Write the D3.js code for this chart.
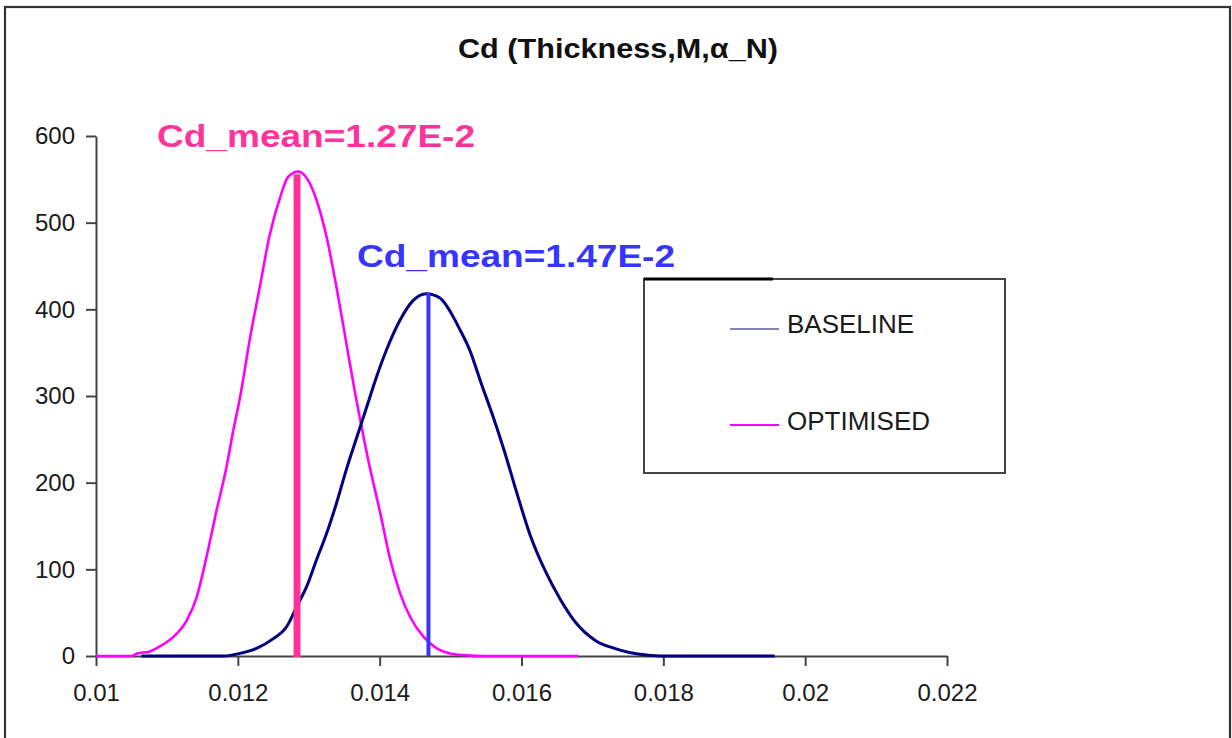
<!DOCTYPE html>
<html>
<head>
<meta charset="utf-8">
<script src="https://cdn.jsdelivr.net/npm/d3@7"></script>
<style>
  html, body { margin: 0; padding: 0; background: #fff; }
  svg { display: block; }
  text { font-family: "Liberation Sans", Arial, Helvetica, sans-serif; }
</style>
</head>
<body>
<svg id="chart" width="1232" height="738"></svg>
<script>
// ---- data ----
const chartTitle = "Cd (Thickness,M,\u03b1_N)";
const seriesNames = ["BASELINE", "OPTIMISED"];

const optimisedX = [0.0100, 0.0105, 0.01058, 0.01075, 0.0109, 0.01109, 0.01128, 0.01142, 0.01156, 0.0117,
  0.01184, 0.01194, 0.01203, 0.01217, 0.01231, 0.01245, 0.0126, 0.01271, 0.01285, 0.01299,
  0.01311, 0.01325, 0.01339, 0.01353, 0.01365, 0.01372, 0.01386, 0.0140, 0.01415, 0.01429,
  0.01443, 0.01462, 0.0148, 0.01499, 0.01519, 0.0155, 0.0168];
const optimisedY = [0, 0, 3, 5, 11, 22, 41, 68, 115, 168,
  218, 262, 298, 366, 426, 486, 530, 553, 559, 549,
  526, 484, 426, 361, 305, 275, 218, 168, 111, 72,
  45, 22, 9, 3, 1, 0, 0];

const baselineX = [0.01064, 0.0118, 0.01203, 0.01227, 0.0125, 0.01269, 0.01283, 0.01297, 0.01311, 0.01325,
  0.01339, 0.01353, 0.01368, 0.01384, 0.01391, 0.0141, 0.01429, 0.01447, 0.01466, 0.01485,
  0.01504, 0.01511, 0.01527, 0.01543, 0.0156, 0.01576, 0.01592, 0.01612, 0.01633, 0.01655,
  0.01677, 0.01704, 0.0173, 0.01752, 0.01779, 0.0181, 0.01957];
const baselineY = [0, 0, 3, 9, 20, 34, 57, 80, 111, 141,
  176, 215, 253, 293, 311, 354, 388, 410, 418, 413,
  391, 380, 353, 315, 276, 236, 192, 140, 99, 65,
  38, 18, 9, 4, 1, 0, 0];

const meanX = [0.012835, 0.014688];          // optimised, baseline
const meanTop = [556, 419];
const meanLabels = ["Cd_mean=1.27E-2", "Cd_mean=1.47E-2"];

const xTickValues = [0.010, 0.012, 0.014, 0.016, 0.018, 0.020, 0.022];
const xTickLabels = ["0.01", "0.012", "0.014", "0.016", "0.018", "0.02", "0.022"];
const yTickValues = [0, 100, 200, 300, 400, 500, 600];
const yTickLabels = ["0", "100", "200", "300", "400", "500", "600"];

// ---- drawing ----
const svg = d3.select("#chart");
const colors = { baseline: "#000080", optimised: "#ff00ff", meanOpt: "#ff3399", meanBase: "#3535ff", legendBase: "#8585b5" };

const x = d3.scaleLinear().domain([0.010, 0.022]).range([96, 947]);
const y = d3.scaleLinear().domain([0, 600]).range([656, 136]);

// outer frame
svg.append("rect").attr("x", 5).attr("y", 7).attr("width", 1225).attr("height", 800)
  .attr("fill", "none").attr("stroke", "#333").attr("stroke-width", 2.2);

// title
svg.append("text").attr("x", 618).attr("y", 58).attr("text-anchor", "middle")
  .attr("font-size", 27).attr("font-weight", "bold").attr("fill", "#111")
  .attr("textLength", 320).attr("lengthAdjust", "spacingAndGlyphs")
  .text(chartTitle);

// axes
const xAxis = d3.axisBottom(x).tickValues(xTickValues)
  .tickFormat((d, i) => xTickLabels[i]).tickSize(10).tickSizeOuter(0).tickPadding(18);
const yAxis = d3.axisLeft(y).tickValues(yTickValues)
  .tickFormat((d, i) => yTickLabels[i]).tickSize(10).tickSizeOuter(0).tickPadding(11);

const gx = svg.append("g").attr("transform", `translate(0,${y(0)})`).call(xAxis);
const gy = svg.append("g").attr("transform", `translate(${x(0.010)},0)`).call(yAxis);
[gx, gy].forEach(g => {
  g.select(".domain").attr("stroke", "#444").attr("stroke-width", 2);
  g.selectAll(".tick line").attr("stroke", "#444").attr("stroke-width", 2);
  g.selectAll(".tick text").attr("font-size", 24).attr("fill", "#1a1a1a")
    .attr("font-family", "'Liberation Sans', Arial, sans-serif");
});

// curves
const line = d3.line().x(d => x(d[0])).y(d => y(d[1])).curve(d3.curveMonotoneX);
svg.append("path").datum(d3.zip(optimisedX, optimisedY))
  .attr("d", line).attr("fill", "none").attr("stroke", colors.optimised)
  .attr("stroke-width", 2.6).attr("stroke-linejoin", "round");
svg.append("path").datum(d3.zip(baselineX, baselineY))
  .attr("d", line).attr("fill", "none").attr("stroke", colors.baseline)
  .attr("stroke-width", 3).attr("stroke-linejoin", "round");

// mean lines
svg.append("line").attr("x1", x(meanX[0])).attr("x2", x(meanX[0]))
  .attr("y1", y(0) + 1).attr("y2", y(meanTop[0]))
  .attr("stroke", colors.meanOpt).attr("stroke-width", 7);
svg.append("line").attr("x1", x(meanX[1])).attr("x2", x(meanX[1]))
  .attr("y1", y(0)).attr("y2", y(meanTop[1]))
  .attr("stroke", colors.meanBase).attr("stroke-width", 4);

// mean annotations
svg.append("text").attr("x", 157).attr("y", 147)
  .attr("font-size", 32).attr("font-weight", "bold").attr("fill", colors.meanOpt)
  .attr("textLength", 318).attr("lengthAdjust", "spacingAndGlyphs")
  .text(meanLabels[0]);
svg.append("text").attr("x", 357).attr("y", 267)
  .attr("font-size", 32).attr("font-weight", "bold").attr("fill", colors.meanBase)
  .attr("textLength", 318).attr("lengthAdjust", "spacingAndGlyphs")
  .text(meanLabels[1]);

// legend
const legend = svg.append("g");
legend.append("rect").attr("x", 644).attr("y", 279).attr("width", 361).attr("height", 194)
  .attr("fill", "#fff").attr("stroke", "#444").attr("stroke-width", 2);
legend.append("line").attr("x1", 644).attr("x2", 773).attr("y1", 279).attr("y2", 279)
  .attr("stroke", "#000").attr("stroke-width", 3);
const legendItems = [
  { name: seriesNames[0], color: colors.legendBase, y: 329, ty: 333 },
  { name: seriesNames[1], color: colors.optimised, y: 425, ty: 430 }
];
legendItems.forEach(it => {
  legend.append("line").attr("x1", 730).attr("x2", 779).attr("y1", it.y).attr("y2", it.y)
    .attr("stroke", it.color).attr("stroke-width", 2);
  legend.append("text").attr("x", 787).attr("y", it.ty)
    .attr("font-size", 26).attr("fill", "#1a1a1a").text(it.name);
});
</script>
</body>
</html>
